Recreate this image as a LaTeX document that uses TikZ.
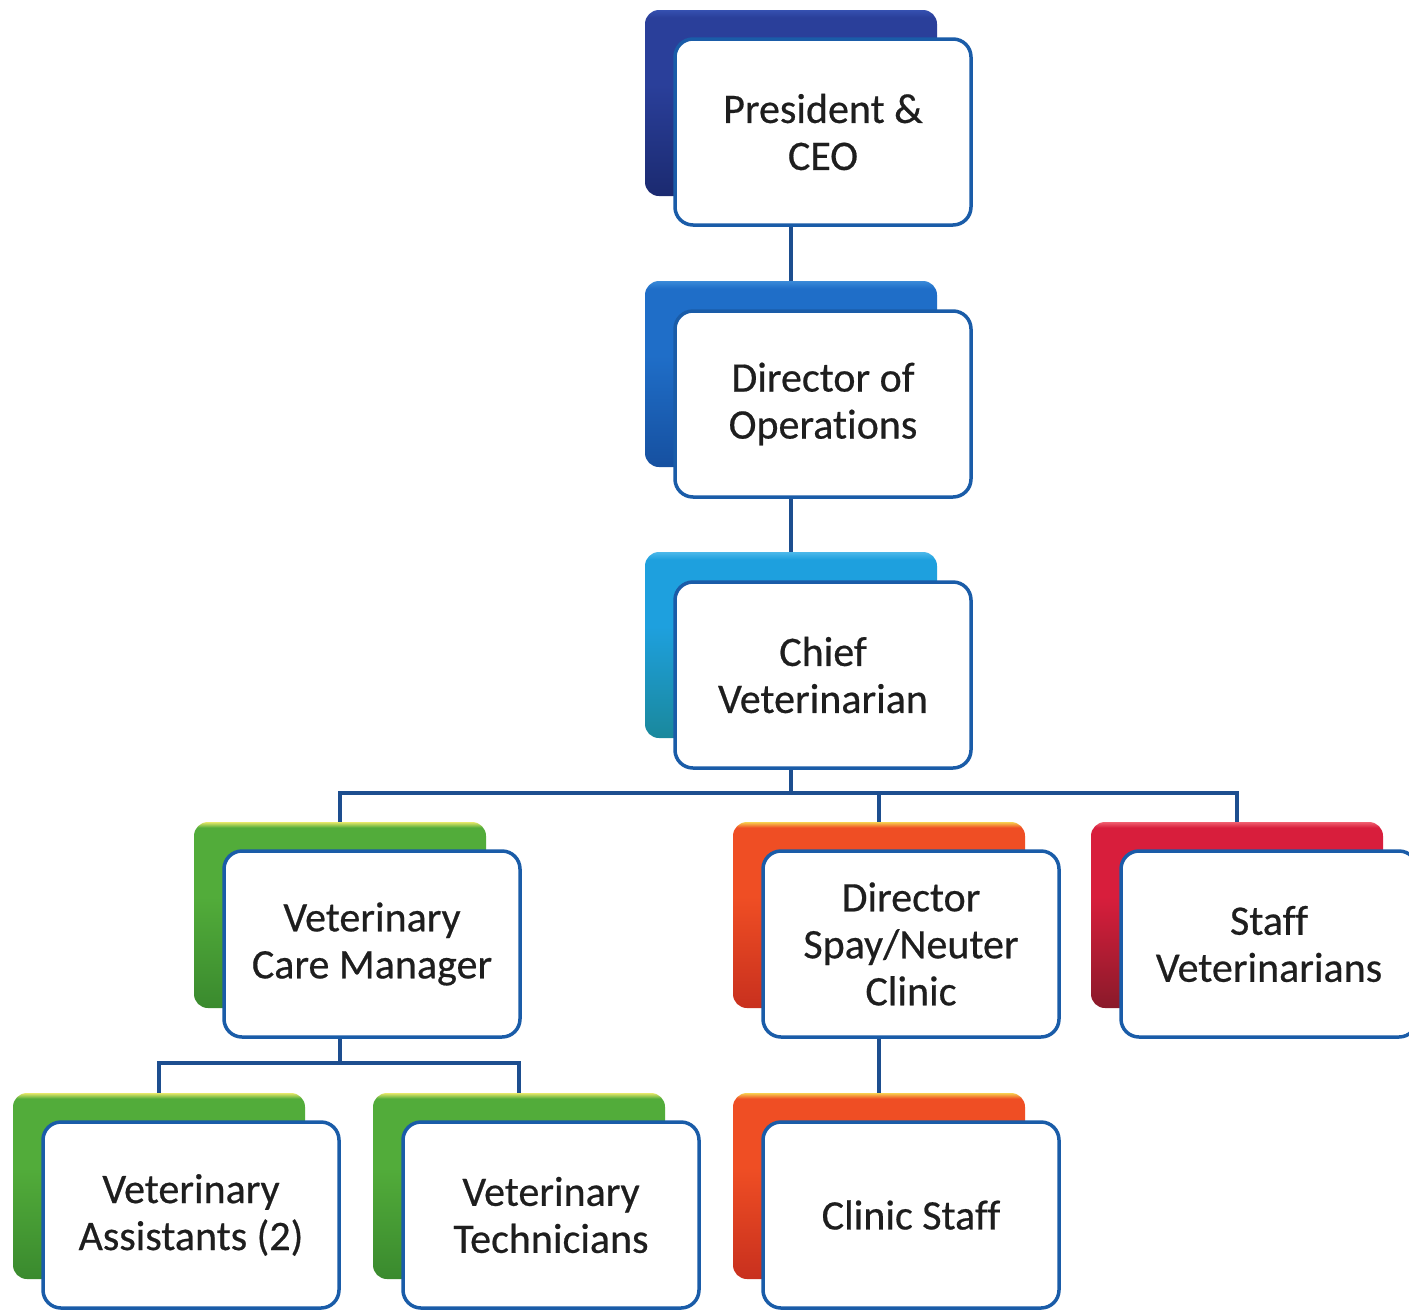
\documentclass[tikz,border=0pt]{standalone}
\usepackage{fontspec}
\setmainfont{Carlito}[Ligatures=NoCommon, FakeBold=0.5]
\definecolor{frontblue}{HTML}{1A5CA8}
\definecolor{connblue}{HTML}{1D4E8F}
\definecolor{textgray}{HTML}{1E1E1E}
\definecolor{navyA}{HTML}{3550B0}
\definecolor{navyB}{HTML}{2A3F9A}
\definecolor{navyC}{HTML}{1B2A70}
\definecolor{blueA}{HTML}{3A8AD8}
\definecolor{blueB}{HTML}{1F6EC8}
\definecolor{blueC}{HTML}{1650A0}
\definecolor{cyanA}{HTML}{4CB8EA}
\definecolor{cyanB}{HTML}{1EA0DE}
\definecolor{cyanC}{HTML}{1A889C}
\definecolor{greenA}{HTML}{E6E86A}
\definecolor{greenB}{HTML}{52AC3A}
\definecolor{greenC}{HTML}{3A8A2E}
\definecolor{orangeA}{HTML}{F8D050}
\definecolor{orangeB}{HTML}{EF4E24}
\definecolor{orangeC}{HTML}{C8301E}
\definecolor{redA}{HTML}{F06070}
\definecolor{redB}{HTML}{D81E3C}
\definecolor{redC}{HTML}{8A1A2A}
\pgfdeclareverticalshading{navyshd}{100bp}{color(0bp)=(navyC); color(25bp)=(navyC); color(55bp)=(navyB); color(73bp)=(navyB); color(75bp)=(navyA); color(100bp)=(navyA)}
\pgfdeclareverticalshading{blueshd}{100bp}{color(0bp)=(blueC); color(25bp)=(blueC); color(55bp)=(blueB); color(73bp)=(blueB); color(75bp)=(blueA); color(100bp)=(blueA)}
\pgfdeclareverticalshading{cyanshd}{100bp}{color(0bp)=(cyanC); color(25bp)=(cyanC); color(55bp)=(cyanB); color(73bp)=(cyanB); color(75bp)=(cyanA); color(100bp)=(cyanA)}
\pgfdeclareverticalshading{greenshd}{100bp}{color(0bp)=(greenC); color(25bp)=(greenC); color(55bp)=(greenB); color(73.5bp)=(greenB); color(75bp)=(greenA); color(100bp)=(greenA)}
\pgfdeclareverticalshading{orangeshd}{100bp}{color(0bp)=(orangeC); color(25bp)=(orangeC); color(55bp)=(orangeB); color(73.5bp)=(orangeB); color(75bp)=(orangeA); color(100bp)=(orangeA)}
\pgfdeclareverticalshading{redshd}{100bp}{color(0bp)=(redC); color(25bp)=(redC); color(55bp)=(redB); color(73.5bp)=(redB); color(75bp)=(redA); color(100bp)=(redA)}
\begin{document}
\begin{tikzpicture}[x=1pt,y=-1pt,
  backbox/.style={rectangle, rounded corners=14pt, minimum width=292pt, minimum height=186pt, inner sep=0pt, draw=none},
  frontbox/.style={rectangle, rounded corners=18pt, minimum width=296pt, minimum height=186pt, inner sep=0pt,
    draw=frontblue, line width=3.5pt, fill=white, align=center, text=textgray,
    font=\fontsize{42}{47}\selectfont},
  navyshade/.style={shading=navyshd},
  blueshade/.style={shading=blueshd},
  cyanshade/.style={shading=cyanshd},
  greenshade/.style={shading=greenshd},
  orangeshade/.style={shading=orangeshd},
  redshade/.style={shading=redshd},
  conn/.style={draw=connblue, line width=3.5pt}
]

\useasboundingbox[fill=white] (0,0) rectangle (1409,1310);

% back boxes
\node[backbox, navyshade]   (b1) at (791,103) {};
\node[backbox, blueshade]   (b2) at (791,374) {};
\node[backbox, cyanshade]   (b3) at (791,645) {};
\node[backbox, greenshade]  (b4) at (340,915) {};
\node[backbox, orangeshade] (b5) at (879,915) {};
\node[backbox, redshade]    (b6) at (1237,915) {};
\node[backbox, greenshade]  (b7) at (159,1186) {};
\node[backbox, greenshade]  (b8) at (519,1186) {};
\node[backbox, orangeshade] (b9) at (879,1186) {};

% front boxes
\node[frontbox] (f1) at (823,132) {President \&\\CEO};
\node[frontbox] (f2) at (823,404) {Director of\\Operations};
\node[frontbox] (f3) at (823,675) {Chief\\Veterinarian};
\node[frontbox] (f4) at (372,944) {Veterinary\\Care Manager};
\node[frontbox] (f5) at (911,944) {Director\\Spay/Neuter\\Clinic};
\node[frontbox] (f6) at (1269,944) {Staff\\Veterinarians};
\node[frontbox] (f7) at (191,1215) {Veterinary\\Assistants (2)};
\node[frontbox] (f8) at (551,1215) {Veterinary\\Technicians};
\node[frontbox] (f9) at (911,1215) {Clinic Staff};

\coordinate (bus1) at (791,793);
\coordinate (bus2) at (340,1063);

% connectors
\draw[conn] (f1.south -| b1.south) -- (b2.north);
\draw[conn] (f2.south -| b2.south) -- (b3.north);
\draw[conn] (f3.south -| b3.south) -- (bus1);
\draw[conn] (b4.north) -- (b4.north |- bus1) -- (b6.north |- bus1) -- (b6.north);
\draw[conn] (b5.north |- bus1) -- (b5.north);
\draw[conn] (f4.south -| b4.south) -- (bus2);
\draw[conn] (b7.north) -- (b7.north |- bus2) -- (b8.north |- bus2) -- (b8.north);
\draw[conn] (f5.south -| b5.south) -- (b9.north);
\end{tikzpicture}
\end{document}
